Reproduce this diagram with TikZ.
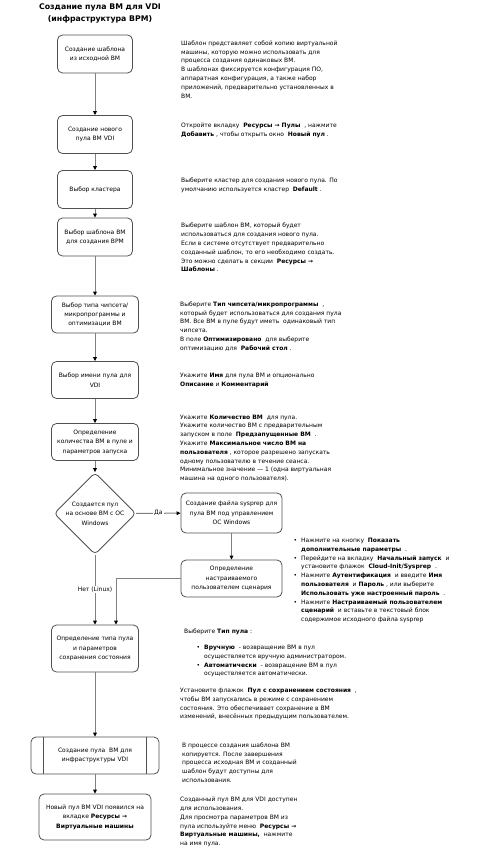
\documentclass[tikz,border=0pt]{standalone}
\usepackage{fontspec}
\setmainfont{DejaVu Sans}
\usetikzlibrary{shapes.geometric,arrows.meta,positioning,calc}
\definecolor{linegray}{RGB}{128,128,128}
\definecolor{boxgray}{RGB}{80,80,80}
\newcommand{\boxfont}{\fontsize{6}{9.4}\selectfont}
\newcommand{\notefont}{\fontsize{6}{8.8}\selectfont}
\newcommand{\bul}{\llap{\textbullet\hspace{4pt}}}

\begin{document}
\begin{tikzpicture}[x=1pt, y=-1pt,
    box/.style={rectangle, rounded corners=5pt, draw=boxgray, line width=0.8pt, fill=white, inner sep=0pt, align=center, font=\boxfont, minimum width=75pt, minimum height=38pt},
    widebox/.style={box, minimum width=87pt, minimum height=37pt},
    decision/.style={diamond, rounded corners=4pt, draw=boxgray, line width=0.8pt, fill=white, inner sep=0pt, align=center, font=\boxfont, minimum width=78pt, minimum height=77pt},
    note/.style={anchor=north west, inner sep=0pt, align=left, font=\notefont},
    arrow/.style={-{Triangle[length=4pt, width=3.6pt, color=black]}, linegray, line width=1pt},
    lbl/.style={fill=white, text=black, inner sep=1pt, font=\boxfont}
  ]
    \useasboundingbox (0,0) rectangle (481,848);

    \node[align=center, inner sep=0pt, font=\fontsize{7.8}{11.7}\selectfont\bfseries] (title) at (100,13.2) {Создание пула ВМ для VDI\\(инфраструктура ВРМ)};

    % left column
    \node[box] (tmpl) at (95,54) {Создание шаблона\\из исходной ВМ};
    \node[box] (newpool) at (95,134.5) {Создание нового\\пула ВМ VDI};
    \node[box] (cluster) at (95,189.5) {Выбор кластера};
    \node[box] (tmplsel) at (95,237) {Выбор шаблона ВМ\\для создания ВРМ};
    \node[widebox] (chipset) at (95,314.5) {Выбор типа чипсета/\\микропрограммы и\\оптимизации ВМ};
    \node[widebox] (poolname) at (95,380) {Выбор имени пула для\\VDI};
    \node[widebox] (vmcount) at (95,442) {Определение\\количества ВМ в пуле и\\параметров запуска};
    \node[decision] (winq) at (95,513.5) {Создается пул\\на основе ВМ с ОС\\Windows};
    \node[box, minimum width=101pt, minimum height=40pt] (sysprep) at (231.5,513) {Создание файла sysprep для\\пула ВМ под управлением\\ОС Windows};
    \node[box, minimum width=101pt, minimum height=37pt] (script) at (231.5,578.5) {Определение\\настраиваемого\\пользователем сценария};
    \node[widebox, minimum height=47pt] (pooltype) at (95,648.5) {Определение типа пула\\и параметров\\сохранения состояния};
    \node[box, minimum width=128pt, minimum height=37pt] (create) at (95,755.5) {Создание пула\ \ ВМ для\\инфраструктуры VDI};
    \draw[boxgray, line width=0.8pt] ([xshift=13pt]create.north west) -- ([xshift=13pt]create.south west)
      ([xshift=-13pt]create.north east) -- ([xshift=-13pt]create.south east);
    \node[box, minimum width=112pt, minimum height=46pt] (done) at (95,817) {Новый пул ВМ VDI появился на\\вкладке \textbf{Ресурсы →}\\\textbf{Виртуальные машины}};

    \draw[arrow] (tmpl) -- (newpool);
    \draw[arrow] (newpool) -- (cluster);
    \draw[arrow] (cluster) -- (tmplsel);
    \draw[arrow] (tmplsel) -- (chipset);
    \draw[arrow] (chipset) -- (poolname);
    \draw[arrow] (poolname) -- (vmcount);
    \draw[arrow] (vmcount) -- (winq);
    \draw[arrow] (winq) -- node[lbl] {Да} (sysprep);
    \draw[arrow] (sysprep) -- (script);
    \draw[arrow] (script.west) -| ([xshift=21pt]pooltype.north);
    \draw[arrow] (winq) -- node[lbl] {Нет (Linux)} (pooltype);
    \draw[arrow] (pooltype) -- (create);
    \draw[arrow] (create) -- (done);

    % notes on the right
    \node[note] (n1) at (181,40.5) {Шаблон представляет собой копию виртуальной\\машины, которую можно использовать для\\процесса создания одинаковых ВМ.\\В шаблонах фиксируется конфигурация ПО,\\аппаратная конфигурация, а также набор\\приложений, предварительно установленных в\\ВМ.};
    \node[note] (n2) at (181,123) {Откройте вкладку \ \textbf{Ресурсы → Пулы} \ , нажмите\\\textbf{Добавить} , чтобы открыть окно \ \textbf{Новый пул} .};
    \node[note] (n3) at (181,178) {Выберите кластер для создания нового пула. По\\умолчанию используется кластер \ \textbf{Default} .};
    \node[note] (n4) at (181,223) {Выберите шаблон ВМ, который будет\\использоваться для создания нового пула.\\Если в системе отсутствует предварительно\\созданный шаблон, то его необходимо создать.\\Это можно сделать в секции \ \textbf{Ресурсы →}\\\textbf{Шаблоны} .};
    \node[note] (n5) at (180,301.5) {Выберите \textbf{Тип чипсета/микропрограммы} \ ,\\который будет использоваться для создания пула\\ВМ. Все ВМ в пуле будут иметь \ одинаковый тип\\чипсета.\\В поле \textbf{Оптимизировано} \ для выберите\\оптимизацию для \ \textbf{Рабочий стол} .};
    \node[note] (n6) at (180,373) {Укажите \textbf{Имя} для пула ВМ и опционально\\\textbf{Описание} и \textbf{Комментарий}};
    \node[note] (n7) at (180,414.5) {Укажите \textbf{Количество ВМ} \ для пула.\\Укажите количество ВМ с предварительным\\запуском в поле \ \textbf{Предзапущенные ВМ} \ .\\Укажите \textbf{Максимальное число ВМ на}\\\textbf{пользователя} , которое разрешено запускать\\одному пользователю в течение сеанса.\\Минимальное значение — 1 (одна виртуальная\\машина на одного пользователя).};
    \node[note] (n8) at (301,538) {\bul Нажмите на кнопку \ \textbf{Показать}\\\textbf{дополнительные параметры} \ .\\\bul Перейдите на вкладку \ \textbf{Начальный запуск} \ и\\установите флажок \ \textbf{Cloud-Init/Sysprep} \ .\\\bul Нажмите \textbf{Аутентификация} \ и введите \textbf{Имя}\\\textbf{пользователя} \ и \textbf{Пароль} , или выберите\\\textbf{Использовать уже настроенный пароль} \ .\\\bul Нажмите \textbf{Настраиваемый пользователем}\\\textbf{сценарий} \ и вставьте в текстовый блок\\содержимое исходного файла sysprep};
    \node[note] (n9) at (184,628.5) {Выберите \textbf{Тип пула} :};
    \node[note] (n10) at (204,645) {\bul\textbf{Вручную} \ - возвращение ВМ в пул\\осуществляется вручную администратором.\\\bul\textbf{Автоматически} \ - возвращение ВМ в пул\\осуществляется автоматически.};
    \node[note] (n11) at (180,688) {Установите флажок \ \textbf{Пул с сохранением состояния} \ ,\\чтобы ВМ запускались в режиме с сохранением\\состояния. Это обеспечивает сохранение в ВМ\\изменений, внесённых предыдущим пользователем.};
    \node[note] (n12) at (182,742.5) {В процессе создания шаблона ВМ\\копируется. После завершения\\процесса исходная ВМ и созданный\\шаблон будут доступны для\\использования.};
    \node[note] (n13) at (180,797) {Созданный пул ВМ для VDI доступен\\для использования.\\Для просмотра параметров ВМ из\\пула используйте меню \ \textbf{Ресурсы →}\\\textbf{Виртуальные машины,} \ нажмите\\на имя пула.};
  \end{tikzpicture}
\end{document}
